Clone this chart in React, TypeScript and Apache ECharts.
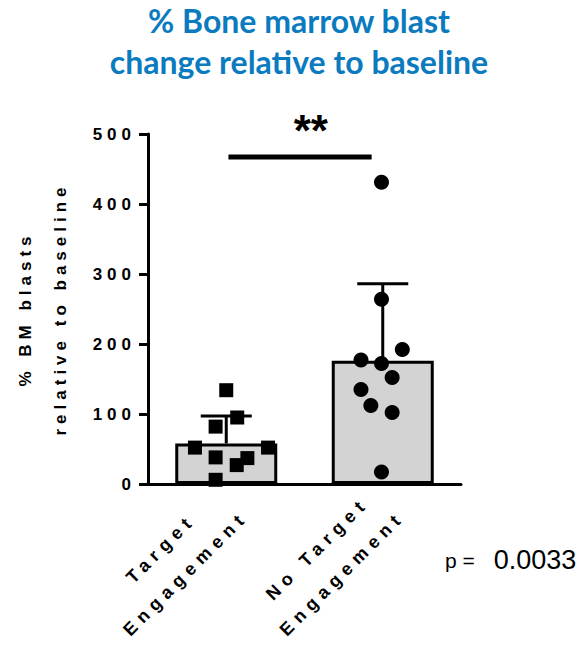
import React, { useEffect, useRef } from 'react';
import * as echarts from 'echarts';

const titleText = '% Bone marrow blast\nchange relative to baseline';
const yAxisTitle = '% BM blasts\nrelative to baseline';
const categories = ['Target\nEngagement', 'No Target\nEngagement'];
const barMeans = [58, 176];
const barSD = [39, 110];
const targetValues = [134, 95, 82, 52, 52, 38, 37, 27, 6];
const targetJitter = [0, 0.07, -0.068, -0.2, 0.267, -0.068, 0.135, 0.067, -0.068];
const noTargetValues = [431, 264, 192, 177, 172, 152, 135, 112, 102, 17];
const noTargetJitter = [-0.008, -0.008, 0.125, -0.139, -0.008, 0.06, -0.139, -0.076, 0.06, -0.008];
const yMin = 0;
const yMax = 500;
const yStep = 100;
const sigFrom = 0.014;
const sigTo = 0.929;
const sigY = 467;
const sigStarsX = 0.54;
const sigStars = '**';
const pLabel = 'p =';
const pValue = '0.0033';

const SP5 = "'Liberation Sans', sp5";
const SP6 = "'Liberation Sans', sp6";

export default function App() {
  const ref = useRef<HTMLDivElement>(null);
  useEffect(() => {
    if (!ref.current) return;
    const chart = echarts.init(ref.current, undefined, { renderer: 'svg' });
    const option: any = {
      animation: false,
      title: {
        text: titleText,
        left: 294,
        top: -5,
        textAlign: 'center',
        textStyle: {
          fontFamily: 'Lato',
          fontWeight: 'bold',
          fontSize: 32,
          lineHeight: 41,
          color: '#0b7bbf',
        },
      },
      grid: { left: 146, top: 134, width: 315, height: 350 },
      xAxis: [
        {
          type: 'category',
          data: categories,
          axisLine: { onZero: false, lineStyle: { color: '#000', width: 3 } },
          axisTick: { alignWithLabel: true, length: 8, lineStyle: { color: '#000', width: 3 } },
          axisLabel: {
            interval: 0,
            rotate: 45,
            align: 'center',
            verticalAlign: 'middle',
            margin: 24,
            padding: [0, 150, 0, 0],
            lineHeight: 35,
            fontSize: 18,
            fontWeight: 'bold',
            fontFamily: SP6,
            color: '#000',
          },
        },
        { type: 'value', min: -0.5, max: 1.5, show: false },
      ],
      yAxis: {
        type: 'value',
        min: yMin,
        max: yMax,
        interval: yStep,
        axisLine: { show: true, onZero: false, lineStyle: { color: '#000', width: 3 } },
        axisTick: { show: true, length: 9, lineStyle: { color: '#000', width: 3 } },
        splitLine: { show: false },
        axisLabel: {
          fontSize: 17,
          fontWeight: 'bold',
          fontFamily: SP5,
          color: '#000',
          margin: 12,
        },
        name: yAxisTitle,
        nameLocation: 'middle',
        nameGap: 105,
        nameRotate: 90,
        nameTextStyle: {
          fontSize: 17,
          fontWeight: 'bold',
          fontFamily: SP5,
          color: '#000',
          lineHeight: 35,
          align: 'center',
          verticalAlign: 'middle',
        },
      },
      graphic: [
        {
          type: 'text',
          x: 445,
          y: 560,
          style: {
            text: `{a|${pLabel}}{b|${pValue}}`,
            verticalAlign: 'middle',
            rich: {
              a: { fontSize: 21, fontFamily: 'Liberation Sans', fill: '#000' },
              b: { fontSize: 27, fontFamily: 'Liberation Sans', fill: '#000', padding: [0, 0, 0, 19] },
            },
          },
        },
      ],
      series: [
        {
          type: 'bar',
          xAxisIndex: 0,
          data: barMeans,
          barWidth: 102,
          silent: true,
          z: 1,
          itemStyle: { color: '#d3d3d3', borderColor: '#000', borderWidth: 3, opacity: 1 },
        },
        {
          type: 'custom',
          xAxisIndex: 1,
          silent: true,
          z: 2,
          data: barMeans.map((m, i) => [i, m, m + barSD[i]]),
          renderItem: (params: any, api: any) => {
            const x = api.value(0);
            const p0 = api.coord([x, api.value(1)]);
            const p1 = api.coord([x, api.value(2)]);
            const half = 25.5;
            return {
              type: 'group',
              children: [
                {
                  type: 'line',
                  shape: { x1: p0[0], y1: p0[1], x2: p1[0], y2: p1[1] },
                  style: { stroke: '#000', lineWidth: 3 },
                },
                {
                  type: 'line',
                  shape: { x1: p1[0] - half, y1: p1[1], x2: p1[0] + half, y2: p1[1] },
                  style: { stroke: '#000', lineWidth: 3 },
                },
              ],
            };
          },
        },
        {
          type: 'scatter',
          xAxisIndex: 1,
          symbol: 'rect',
          symbolSize: 14,
          silent: true,
          z: 3,
          itemStyle: { color: '#000', opacity: 1 },
          data: targetValues.map((v, i) => [0 + targetJitter[i], v]),
        },
        {
          type: 'scatter',
          xAxisIndex: 1,
          symbol: 'circle',
          symbolSize: 15,
          silent: true,
          z: 3,
          itemStyle: { color: '#000', opacity: 1 },
          data: noTargetValues.map((v, i) => [1 + noTargetJitter[i], v]),
        },
        {
          type: 'line',
          xAxisIndex: 1,
          symbol: 'none',
          silent: true,
          z: 3,
          lineStyle: { color: '#000', width: 5 },
          data: [
            [sigFrom, sigY],
            [sigTo, sigY],
          ],
        },
        {
          type: 'scatter',
          xAxisIndex: 1,
          symbolSize: 0,
          silent: true,
          z: 3,
          itemStyle: { opacity: 1 },
          data: [[sigStarsX, sigY]],
          label: {
            show: true,
            formatter: sigStars,
            position: 'top',
            distance: 5,
            fontSize: 44,
            fontWeight: 'bold',
            fontFamily: 'Liberation Sans',
            color: '#000',
          },
        },
      ],
    };
    chart.setOption(option);
    return () => chart.dispose();
  }, []);
  return (
    <>
      <style>{`text[style*="sp5"]{letter-spacing:5px;} text[style*="sp6"]{letter-spacing:6px;}`}</style>
      <div
        ref={ref}
        style={{ position: 'fixed', left: 0, top: 0, width: 588, height: 647, background: '#fff' }}
      />
    </>
  );
}
